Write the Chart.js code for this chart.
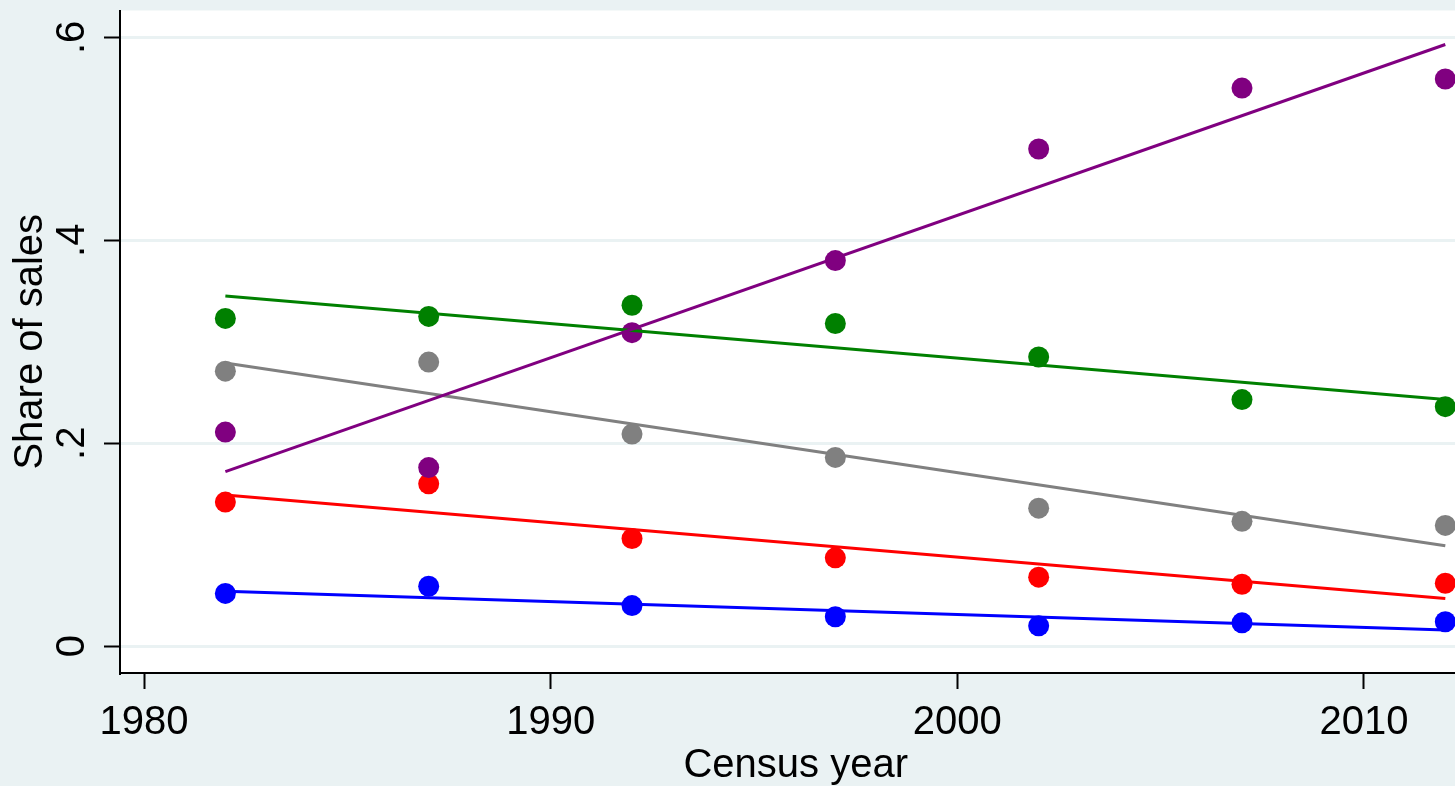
<!DOCTYPE html>
<html>
<head>
<meta charset="utf-8">
<script src="https://cdn.jsdelivr.net/npm/chart.js@4/dist/chart.umd.min.js"></script>
<style>
    html, body { margin: 0; padding: 0; overflow: hidden; background: #eaf2f3; }
    canvas { display: block; }
</style>
</head>
<body>
<canvas id="chart" width="1482" height="786"></canvas>
<script>
// census years
let years = [1982, 1987, 1992, 1997, 2002, 2007, 2012];

// observed shares
let purple = [0.211, 0.176, 0.309, 0.380, 0.490, 0.550, 0.559];
let green = [0.323, 0.325, 0.336, 0.318, 0.285, 0.243, 0.236];
let gray = [0.271, 0.280, 0.209, 0.186, 0.136, 0.123, 0.119];
let red = [0.142, 0.160, 0.106, 0.087, 0.068, 0.061, 0.062];
let blue = [0.052, 0.059, 0.040, 0.029, 0.020, 0.023, 0.024];

// linear fit endpoints (1982, 2012)
let fitYears = [1982, 2012];
let purpleFit = [0.172, 0.593];
let greenFit = [0.345, 0.243];
let grayFit = [0.279, 0.099];
let redFit = [0.149, 0.047];
let blueFit = [0.054, 0.016];

// ticks
let xTicks = [1980, 1990, 2000, 2010];
let yTicks = [0, 0.2, 0.4, 0.6];
let yTickLabels = ['0', '.2', '.4', '.6'];

let pts = function (xs, ys) {
    return xs.map((x, i) => ({ x: x, y: ys[i] }));
}

let fitSet = function (vals, color) {
    return {
        data: pts(fitYears, vals),
        showLine: true,
        borderColor: color,
        borderWidth: 3,
        pointRadius: 0,
        fill: false
    };
}

let dotSet = function (vals, color) {
    return {
        data: pts(years, vals),
        showLine: false,
        backgroundColor: color,
        borderWidth: 0,
        pointRadius: 10.5,
        pointHoverRadius: 10.5
    };
}

let plotBg = {
    id: 'plotBg',
    beforeDraw(chart) {
        let a = chart.chartArea;
        let ctx = chart.ctx;
        ctx.save();
        ctx.fillStyle = '#ffffff';
        ctx.fillRect(a.left, a.top, a.right - a.left, a.bottom - a.top);
        ctx.restore();
    }
}

Chart.defaults.font.family = '"Liberation Sans", Arial, sans-serif';
Chart.defaults.color = '#000000';

// canvas is wider than the window: the plot region runs past the right edge (cropped)
let myChart = new Chart(document.getElementById('chart'), {
    type: 'scatter',
    data: {
        datasets: [
            fitSet(purpleFit, '#800080'),
            fitSet(greenFit, '#008000'),
            fitSet(grayFit, '#808080'),
            fitSet(redFit, '#ff0000'),
            fitSet(blueFit, '#0000ff'),
            dotSet(purple, '#800080'),
            dotSet(green, '#008000'),
            dotSet(gray, '#808080'),
            dotSet(red, '#ff0000'),
            dotSet(blue, '#0000ff'),
        ]
    },
    options: {
        responsive: false,
        animation: false,
        layout: { padding: { top: 7, right: 0, left: 0, bottom: 0 } },
        plugins: {
            legend: { display: false },
            tooltip: { enabled: false }
        },
        scales: {
            x: {
                type: 'linear',
                min: 1979.409,
                max: 2012.644,
                afterBuildTicks: s => { s.ticks = xTicks.map(v => ({ value: v })); },
                afterFit: s => { s.height = 113; s.paddingLeft = 0; s.paddingRight = 0; },
                grid: { drawOnChartArea: false, tickLength: 16, tickColor: '#000000', tickWidth: 2 },
                border: { color: '#000000', width: 2 },
                ticks: { font: { size: 40 }, padding: 10, maxRotation: 0, callback: v => String(v) },
                title: { display: true, text: 'Census year', font: { size: 40, lineHeight: 1.0 }, padding: { top: 0, bottom: 0 } }
            },
            y: {
                type: 'linear',
                min: -0.02647,
                max: 0.6265,
                afterBuildTicks: s => { s.ticks = yTicks.map(v => ({ value: v })); },
                afterFit: s => { s.width = 120; s.paddingTop = 0; s.paddingBottom = 0; },
                grid: { color: '#eaf2f3', lineWidth: 3, tickLength: 16, tickColor: '#000000', tickWidth: 2 },
                border: { color: '#000000', width: 2 },
                ticks: {
                    font: { size: 40 },
                    padding: 14,
                    minRotation: 90,
                    maxRotation: 90,
                    crossAlign: 'center',
                    callback: (v, i) => yTickLabels[i]
                },
                title: { display: true, text: 'Share of sales', font: { size: 40 }, padding: { top: 7, bottom: 0 } }
            }
        }
    },
    plugins: [plotBg]
});
</script>
</body>
</html>
